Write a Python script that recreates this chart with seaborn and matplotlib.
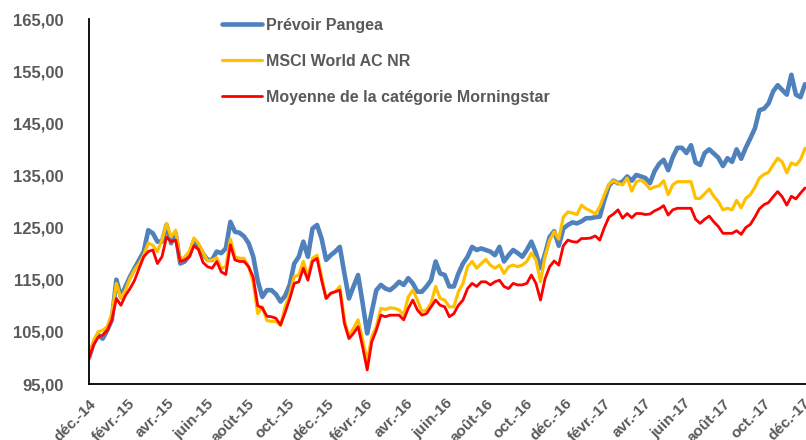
import matplotlib
matplotlib.use('Agg')
import numpy as np
import pandas as pd
import matplotlib.pyplot as plt
import matplotlib.ticker as mticker
import seaborn as sns

# Weekly values, base 100 at end of December 2014
pangea = [
    100.0, 102.8, 104.4, 103.7, 105.3, 107.3, 115.0, 111.7, 113.7, 115.6, 117.2, 118.8, 120.4, 124.5, 123.9, 122.3,
    122.3, 125.5, 122.0, 123.9, 118.1, 118.5, 119.7,
    122.4, 121.5, 120.0, 118.8, 118.8, 120.4, 120.1, 121.0, 126.1, 124.2, 124.0, 123.3, 122.0, 119.5, 114.8, 111.7,
    113.0, 113.0, 112.2, 110.8, 111.9, 114.0,
    118.1, 119.4, 122.3, 119.4, 124.8, 125.5, 122.9, 118.8, 119.7, 120.4, 121.3, 116.2, 111.4, 113.7, 115.9, 110.5,
    104.7, 108.9, 113.0, 114.0, 113.3, 113.0,
    113.7, 114.6, 114.0, 115.3, 114.3, 112.7, 112.7, 113.7, 114.9, 118.5, 116.2, 115.9, 113.7, 113.7, 116.2, 118.1,
    119.4, 121.3, 120.7, 121.0,
    120.7, 120.4, 119.7, 121.3, 118.5, 119.7, 120.7, 120.1, 119.4, 120.7, 122.3, 120.1, 117.2, 120.0, 123.2, 124.3,
    121.5, 124.8, 125.5, 126.0, 125.8, 126.2, 126.8, 126.8,
    127.0, 127.1, 130.3, 133.0, 134.0, 133.5, 133.8, 134.8, 134.0, 135.1, 134.8, 134.5, 133.5, 135.8, 137.2, 138.0,
    136.0, 138.5, 140.3, 140.3, 139.3, 140.8, 137.5, 137.0,
    139.3, 140.0, 139.2, 138.4, 136.8, 138.3, 137.6, 140.0, 138.2, 140.3, 142.1, 144.0, 147.5, 147.8, 148.8, 151.1,
    152.3, 151.4, 150.5, 154.3, 150.5, 150.0, 152.5,
]
msci = [
    100.0, 103.4, 105.0, 105.3, 106.0, 108.5, 114.3, 111.4, 113.0, 115.3, 116.9, 118.1, 119.7, 122.0, 121.6, 120.4,
    122.6, 125.8, 123.2, 124.5, 118.5, 119.4, 120.4,
    123.0, 122.0, 120.2, 118.6, 118.8, 119.2, 117.2, 117.5, 122.8, 119.4, 119.1, 119.1, 117.5, 114.5, 108.5, 109.8,
    107.2, 107.0, 107.0, 106.3, 109.8, 112.2,
    115.6, 115.9, 118.5, 115.6, 119.1, 119.7, 115.6, 111.4, 112.4, 112.7, 113.7, 107.3, 104.1, 105.7, 107.3, 103.4,
    99.3, 104.1, 106.0, 109.5, 109.3, 109.6,
    109.5, 109.2, 108.2, 111.7, 113.0, 111.1, 108.9, 109.2, 110.5, 113.7, 111.4, 111.1, 109.8, 109.8, 112.7, 114.3,
    117.5, 118.5, 117.2, 118.1,
    118.9, 117.8, 117.2, 117.8, 116.2, 117.5, 117.8, 117.5, 117.8, 118.5, 120.1, 118.8, 114.6, 119.5, 122.5, 124.2,
    122.8, 127.0, 128.0, 127.8, 127.5, 129.3, 128.6, 128.2,
    127.6, 129.0, 131.3, 133.3, 134.0, 133.5, 133.2, 134.5, 132.0, 133.8, 134.1, 133.5, 132.4, 132.8, 133.0, 134.0,
    131.3, 133.2, 133.8, 133.8, 133.8, 133.8, 130.6, 130.6,
    131.5, 132.4, 131.0, 130.0, 128.4, 128.7, 128.4, 130.2, 128.8, 130.6, 131.3, 132.7, 134.5, 135.2, 135.6, 137.0,
    138.3, 137.6, 135.5, 137.4, 137.0, 138.0, 140.2,
]
morningstar = [
    100.0, 102.5, 104.0, 104.4, 105.3, 107.3, 111.4, 110.1, 112.0, 113.3, 114.9, 117.2, 119.4, 120.4, 120.7, 118.1,
    119.4, 123.2, 122.3, 122.6, 118.5, 118.8, 119.4,
    121.5, 120.8, 118.3, 117.5, 117.2, 118.5, 116.5, 116.0, 121.7, 118.8, 118.5, 118.5, 117.5, 115.5, 110.0, 109.6,
    108.0, 107.9, 107.6, 106.3, 108.7, 111.3,
    114.3, 114.6, 117.2, 114.9, 118.5, 119.1, 114.9, 111.4, 112.4, 112.7, 113.0, 106.6, 103.7, 104.7, 106.0, 102.1,
    97.7, 103.1, 105.3, 108.2, 107.9, 108.2,
    108.2, 108.2, 107.3, 109.5, 111.1, 109.2, 108.2, 108.5, 109.8, 111.1, 110.1, 109.8, 107.9, 108.5, 110.1, 111.1,
    113.3, 114.3, 113.7, 114.6,
    114.6, 114.0, 114.6, 114.9, 113.7, 113.3, 114.3, 114.0, 114.0, 114.3, 115.9, 114.3, 111.1, 115.2, 117.5, 118.6,
    117.8, 121.5, 122.6, 122.3, 122.2, 122.9, 122.9, 123.0,
    123.4, 122.6, 125.0, 127.0, 127.6, 128.4, 126.8, 127.7, 126.9, 127.7, 127.7, 127.5, 127.6, 128.2, 128.6, 129.2,
    127.4, 128.4, 128.7, 128.7, 128.7, 128.7, 126.6, 125.8,
    126.6, 127.2, 126.1, 125.2, 123.9, 123.9, 123.9, 124.4, 123.7, 125.0, 125.6, 127.0, 128.6, 129.4, 129.8, 130.9,
    131.9, 130.9, 129.3, 131.0, 130.5, 131.6, 132.6,
]
series_names = ['Prévoir Pangea', 'MSCI World AC NR', 'Moyenne de la catégorie Morningstar']
tick_labels = ['déc.-14', 'févr.-15', 'avr.-15', 'juin-15', 'août-15', 'oct.-15', 'déc.-15',
               'févr.-16', 'avr.-16', 'juin-16', 'août-16', 'oct.-16', 'déc.-16',
               'févr.-17', 'avr.-17', 'juin-17', 'août-17', 'oct.-17', 'déc.-17']

dates = pd.date_range('2014-12-31', periods=len(pangea), freq='7D')
df = pd.DataFrame({'date': dates, series_names[0]: pangea,
                   series_names[1]: msci, series_names[2]: morningstar})
df = df.melt(id_vars='date', var_name='serie', value_name='valeur')

sns.set_style('white')
plt.rcParams['font.family'] = ['Liberation Sans', 'DejaVu Sans']
grey = '#595959'

fig = plt.figure(figsize=(8.06, 4.40), dpi=100)
ax = fig.add_axes([89 / 806, 56 / 440, 1 - 89 / 806, 365 / 440])

colors = ['#4F81BD', '#FFC000', '#FF0000']
widths = [3.3, 2.3, 2.0]
for name, c, lw in zip(series_names, colors, widths):
    sns.lineplot(data=df[df['serie'] == name], x='date', y='valeur', color=c,
                 linewidth=lw, label=name, ax=ax)

ax.set_ylim(95, 165)
ax.set_yticks(np.arange(95, 166, 10))
ax.yaxis.set_major_formatter(mticker.FuncFormatter(lambda v, p: f'{v:.2f}'.replace('.', ',')))
ax.set_xlim(pd.Timestamp('2014-12-31'), pd.Timestamp('2018-01-04 12:00'))
tick_dates = pd.date_range('2014-12-31', periods=len(tick_labels), freq='2ME')
ax.set_xticks(tick_dates)
ax.set_xticklabels(tick_labels, rotation=45, ha='right', rotation_mode='anchor')
ax.set_xlabel('')
ax.set_ylabel('')

for side in ['top', 'right']:
    ax.spines[side].set_visible(False)
for side in ['left', 'bottom']:
    ax.spines[side].set_color('black')
    ax.spines[side].set_linewidth(1.3)
ax.tick_params(axis='both', direction='out', length=5, width=1.3, color='black',
               labelcolor=grey)
ax.tick_params(axis='y', labelsize=12, pad=13)
ax.tick_params(axis='x', labelsize=11, pad=4)
for lab in ax.get_xticklabels() + ax.get_yticklabels():
    lab.set_fontweight('bold')

leg = ax.legend(loc='upper left', bbox_to_anchor=(214 / 806, 1 - 10 / 440),
                bbox_transform=fig.transFigure, frameon=False, borderpad=0,
                handlelength=2.5, handletextpad=0.25, labelspacing=1.3,
                prop={'size': 11.5, 'weight': 'bold'})
for t in leg.get_texts():
    t.set_color(grey)

fig.savefig('out.png', dpi=100)
